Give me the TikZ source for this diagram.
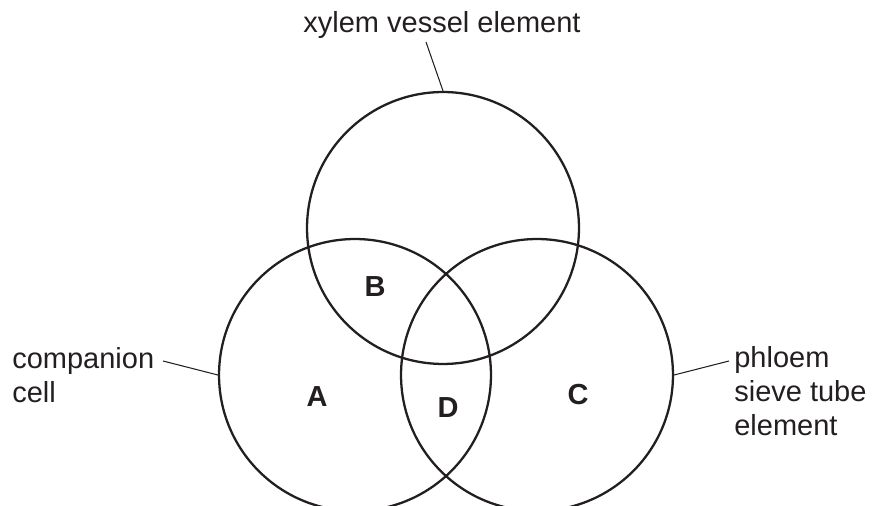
\documentclass[tikz,border=0pt]{standalone}
\usepackage{fontspec}
\setmainfont{Liberation Sans}
\usepackage{tikz}
\usetikzlibrary{positioning}
\definecolor{ink}{HTML}{231F20}

\begin{document}
\begin{tikzpicture}[x=0.02cm, y=-0.02cm, ink,
        cell/.style={draw=ink, circle, line width=1.3pt, inner sep=0pt, minimum size=5.44cm},
        leader/.style={draw=ink, line width=0.6pt},
        label/.style={font=\fontsize{16.5}{19.1}\selectfont, text=ink, inner sep=0pt, align=left},
        region/.style={font=\fontsize{16.5}{19.1}\selectfont\bfseries, text=ink, inner sep=0pt}]
    \useasboundingbox (0,0) rectangle (872,506);
    \clip (0,0) rectangle (872,506);

    %circles
    \node[cell] (xylem) at (443,228) {};
    \node[cell] (companion) at (355,375) {};
    \node[cell] (phloem) at (537,375) {};

    %region letters
    \node[region] (B) at (375,287) {B};
    \node[region] (A) at (317,397) {A};
    \node[region] (D) at (448,408) {D};
    \node[region] (C) at (578,395) {C};

    %labels (base = last line)
    \node[label, anchor=base] (xylemtxt) at (442,33) {xylem vessel element};
    \node[label, anchor=base west] (companiontxt) at (12,402) {companion\\cell};
    \node[label, anchor=base west] (phloemtxt) at (734,435) {phloem\\sieve tube\\element};

    %leader lines
    \coordinate (xylemend) at (426,42);
    \coordinate (companionend) at (163,361);
    \coordinate (phloemend) at (729,361);
    \draw[leader] (xylem.north) -- (xylemend);
    \draw[leader] (companion.west) -- (companionend);
    \draw[leader] (phloem.east) -- (phloemend);
\end{tikzpicture}
\end{document}
